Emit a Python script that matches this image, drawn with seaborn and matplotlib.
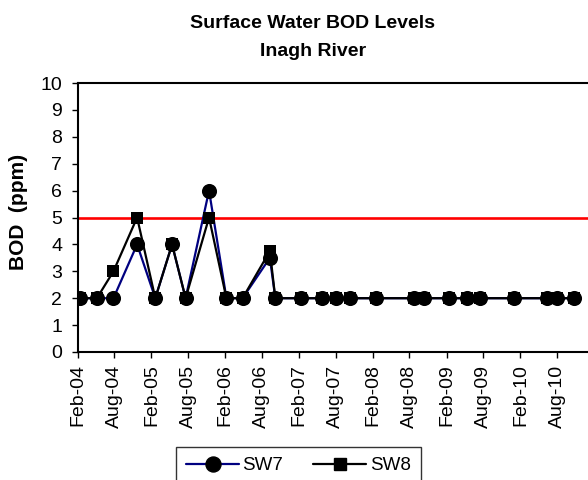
import matplotlib
matplotlib.use("Agg")
import matplotlib.pyplot as plt
import matplotlib.dates as mdates
from matplotlib.lines import Line2D
import pandas as pd
import seaborn as sns

# Sampling dates (shared by both stations)
sample_dates = [
    "2004-02-15", "2004-05-07", "2004-07-28", "2004-11-22", "2005-02-20",
    "2005-05-14", "2005-07-20", "2005-11-13", "2006-02-07", "2006-04-28",
    "2006-09-10", "2006-10-07", "2007-02-10", "2007-05-25", "2007-08-04",
    "2007-10-13", "2008-02-16", "2008-08-22", "2008-10-10", "2009-02-13",
    "2009-05-13", "2009-07-16", "2009-12-29", "2010-06-13", "2010-08-01",
    "2010-10-22",
]
# BOD readings (ppm)
sw7_bod = [2, 2, 2, 4, 2, 4, 2, 6, 2, 2, 3.5, 2, 2, 2, 2, 2, 2, 2, 2, 2, 2, 2, 2, 2, 2, 2]
sw8_bod = [2, 2, 3, 5, 2, 4, 2, 5, 2, 2, 3.75, 2, 2, 2, 2, 2, 2, 2, 2, 2, 2, 2, 2, 2, 2, 2]
bod_limit = 5

title_lines = ["Surface Water BOD Levels", "Inagh River"]
y_label = "BOD  (ppm)"

df7 = pd.DataFrame({"date": pd.to_datetime(sample_dates), "bod": sw7_bod})
df8 = pd.DataFrame({"date": pd.to_datetime(sample_dates), "bod": sw8_bod})

sns.set_style("white")
plt.rcParams["font.family"] = ["Liberation Sans", "DejaVu Sans"]
plt.rcParams["text.color"] = "black"

x_start = pd.Timestamp("2004-02-01")
x_end = pd.Timestamp("2011-01-20")
px_per_day = (557 - 77.5) / (pd.Timestamp("2010-08-01") - x_start).days
ax_w_px = (x_end - x_start).days * px_per_day

fig = plt.figure(figsize=(5.88, 4.8), dpi=100)
ax = fig.add_axes([77.5 / 588, 1 - 352 / 480, ax_w_px / 588, (352 - 83) / 480])

navy = "#000080"
ax.axhline(bod_limit, color="#ff0000", lw=1.9, zorder=1.5)

# connecting lines
sns.lineplot(data=df7, x="date", y="bod", ax=ax, color=navy, lw=1.6,
             zorder=2, legend=False)
sns.lineplot(data=df8, x="date", y="bod", ax=ax, color="black", lw=1.6,
             zorder=2.1, legend=False)
# markers
sns.scatterplot(data=df8, x="date", y="bod", ax=ax, color="black", marker="s",
                s=85, linewidth=0, zorder=3, legend=False)
sns.scatterplot(data=df7, x="date", y="bod", ax=ax, color="black", marker="o",
                s=118, linewidth=0, zorder=3.1, legend=False)

ax.set_xlim(x_start, x_end)
ax.set_ylim(0, 10)
ax.set_yticks(range(0, 11))
ax.xaxis.set_major_locator(mdates.MonthLocator(bymonth=[2, 8]))
ax.xaxis.set_major_formatter(mdates.DateFormatter("%b-%y"))
ax.set_xlabel("")
ax.set_ylabel("")

for side in ["left", "bottom", "top"]:
    ax.spines[side].set_visible(True)
    ax.spines[side].set_color("black")
    ax.spines[side].set_linewidth(1.5)
ax.spines["right"].set_visible(False)

ax.tick_params(axis="both", which="major", direction="out", length=4,
               width=1, color="black", labelsize=14, labelcolor="black",
               left=True, bottom=True)
ax.tick_params(axis="y", pad=7)
ax.tick_params(axis="x", pad=5)
for lbl in ax.get_xticklabels():
    lbl.set_rotation(90)

fig.text(19 / 588, 1 - 212 / 480, y_label, rotation=90, ha="center",
         va="center", fontsize=15, fontweight="bold")
fig.text(313 / 588, 1 - 23 / 480, title_lines[0], ha="center", va="center",
         fontsize=14, fontweight="bold")
fig.text(313 / 588, 1 - 52 / 480, title_lines[1], ha="center", va="center",
         fontsize=14, fontweight="bold")

h_sw7 = Line2D([], [], color=navy, lw=1.6, marker="o", markersize=10.8,
               markerfacecolor="black", markeredgecolor="black")
h_sw8 = Line2D([], [], color="black", lw=1.6, marker="s", markersize=9.2,
               markerfacecolor="black", markeredgecolor="black")
h_lim = Line2D([], [], color="#ff0000", lw=1.9)
# column-major fill: first row SW7 | SW8, second row the limit line
leg = fig.legend([h_sw7, h_lim, h_sw8], ["SW7", "", "SW8"], ncol=2,
                 loc="upper left",
                 bbox_to_anchor=(176 / 588, 1 - 446.7 / 480),
                 bbox_transform=fig.transFigure, borderaxespad=0,
                 fontsize=13.5, frameon=True, fancybox=False, handlelength=2.8,
                 handletextpad=0.2, columnspacing=1.6, borderpad=0.55,
                 labelspacing=0.3)
leg.get_frame().set_edgecolor("black")
leg.get_frame().set_linewidth(1.0)

fig.savefig("out.png", dpi=100)
